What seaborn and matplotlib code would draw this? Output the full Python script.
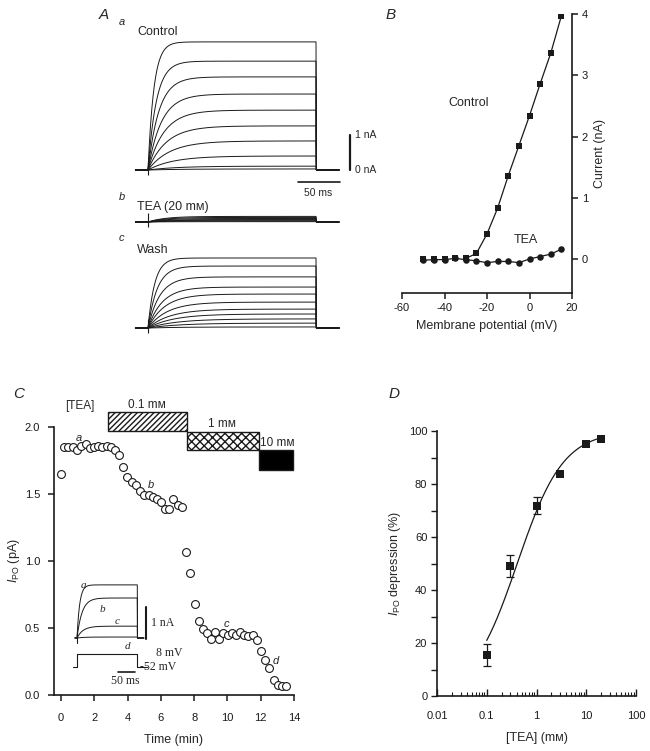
import numpy as np
import pandas as pd
import seaborn as sns
import matplotlib
matplotlib.use("Agg")
import matplotlib.pyplot as plt

# ---- data ----
# A: steady-state amplitude (nA) and rise time constant (ms) of each record
ctrl_amp = [3.66, 3.11, 2.66, 2.17, 1.71, 1.26, 0.83, 0.40, 0.11, 0.03]
ctrl_tau = [7, 10, 13, 16, 19, 22, 26, 30, 35, 40]
tea_amp = [0.16, 0.13, 0.10, 0.07, 0.05, 0.03, 0.01]
tea_tau = [20, 20, 20, 20, 20, 20, 20]
wash_amp = [2.0, 1.77, 1.46, 1.17, 0.97, 0.74, 0.54, 0.40, 0.26, 0.14, 0.03]
wash_tau = [8, 11, 14, 17, 20, 23, 26, 30, 34, 38, 40]
step_ms = 200

# B: I-V relation
vm = [-50, -45, -40, -35, -30, -25, -20, -15, -10, -5, 0, 5, 10, 15]
ctrl_iv = [0.0, 0.0, 0.0, 0.01, 0.01, 0.09, 0.41, 0.83, 1.36, 1.85, 2.34, 2.86, 3.36, 3.97]
tea_iv = [-0.02, -0.01, -0.01, 0.01, -0.01, -0.03, -0.06, -0.04, -0.04, -0.06, 0.0, 0.04, 0.08, 0.16]

# C: time course of I_PO
time_min = [0, 0.18, 0.44, 0.7, 0.94, 1.18, 1.5, 1.74, 1.98, 2.22, 2.46, 2.74, 2.98, 3.24,
            3.49, 3.75, 3.99, 4.25, 4.51, 4.75, 5.01, 5.27, 5.53, 5.75, 6.01, 6.25, 6.51,
            6.75, 7.01, 7.27, 7.51, 7.76, 8.06, 8.3, 8.52, 8.8, 9.02, 9.26, 9.52, 9.76,
            10.02, 10.26, 10.52, 10.76, 11.02, 11.26, 11.52, 11.76, 12.02, 12.28, 12.52,
            12.77, 13.03, 13.29, 13.53]
ipo = [1.65, 1.85, 1.85, 1.85, 1.83, 1.86, 1.87, 1.84, 1.85, 1.86, 1.85, 1.86, 1.85, 1.83,
       1.79, 1.70, 1.63, 1.59, 1.57, 1.52, 1.49, 1.49, 1.48, 1.46, 1.44, 1.39, 1.39,
       1.46, 1.42, 1.40, 1.07, 0.91, 0.68, 0.55, 0.49, 0.46, 0.42, 0.47, 0.42, 0.46,
       0.45, 0.46, 0.45, 0.47, 0.45, 0.44, 0.45, 0.41, 0.33, 0.26, 0.20,
       0.11, 0.075, 0.07, 0.07]
tea_labels = ["0.1 mᴍ", "1 mᴍ", "10 mᴍ"]
tea_start = [2.82, 7.57, 11.9]
tea_end = [7.57, 11.9, 13.94]
tea_low = [1.97, 1.83, 1.68]
tea_high = [2.11, 1.96, 1.83]
point_tags = ["a", "b", "c", "d"]
tag_t = [1.1, 5.4, 9.96, 12.9]
tag_v = [1.92, 1.57, 0.53, 0.25]
# inset records a-d
inset_amp = [1.66, 1.25, 0.37, 0.03]
inset_tau = [8, 15, 18, 20]
inset_step = 180
proto_t = [-12, 0, 0, 180, 180, 210]
proto_mv = [-52, -52, 8, 8, -52, -52]

# D: concentration-response
tea_conc = [0.1, 0.3, 1, 3, 10, 20]
depression = [15.6, 49.0, 71.8, 83.9, 95.0, 97.0]
dep_sem = [4.1, 4.2, 3.2, 0, 0, 0]
ec50, hill_n = 0.41, 0.94

sns.set_theme(style="ticks")
plt.rcParams['font.family'] = ['Liberation Sans', 'DejaVu Sans']
plt.rcParams['mathtext.fontset'] = 'custom'
plt.rcParams['mathtext.rm'] = 'Liberation Sans'
plt.rcParams['mathtext.it'] = 'Liberation Sans:italic'
plt.rcParams['axes.unicode_minus'] = False
plt.rcParams['hatch.linewidth'] = 1.0

W, H = 650, 751
fig = plt.figure(figsize=(W / 100, H / 100), dpi=100)


def box(x0, y0, x1, y1):
    return [x0 / W, 1 - y1 / H, (x1 - x0) / W, (y1 - y0) / H]


def ftext(x, y, s, **kw):
    kw.setdefault('ha', 'left')
    kw.setdefault('va', 'center')
    fig.text(x / W, 1 - y / H, s, **kw)


def records(amps, taus, dur, t0=-15, t1=228):
    t = np.arange(t0, t1, 0.5)
    rows = []
    for i, (a, tau) in enumerate(zip(amps, taus)):
        on = (t >= 0) & (t <= dur)
        y = np.where(on, a * (1 - np.exp(-np.clip(t, 0, None) / tau)), 0.0)
        rows.append(pd.DataFrame({'t': t, 'I': y, 'rec': i}))
    return pd.concat(rows)


def blank(ax):
    ax.set_facecolor('none')
    ax.axis('off')


# ---- panel A ----
px_ms, px_na = 0.84, 35.0
A_boxes = [(20, 200, 170), (200, 235, 222), (240, 340, 328)]
A_sets = [(ctrl_amp, ctrl_tau), (tea_amp, tea_tau), (wash_amp, wash_tau)]
for (ytop, ybot, ybase), (amps, taus) in zip(A_boxes, A_sets):
    ax = fig.add_axes(box(130, ytop, 400, ybot))
    blank(ax)
    df = records(amps, taus, step_ms)
    sns.lineplot(data=df, x='t', y='I', units='rec', estimator=None, color='k',
                 lw=0.7, ax=ax, legend=False)
    ax.vlines(0, -0.15, 0.25, color='k', lw=0.8)
    ax.set_xlim((130 - 148) / px_ms, (400 - 148) / px_ms)
    ax.set_ylim((ybase - ybot) / px_na, (ybase - ytop) / px_na)
    if ytop == 20:
        ax.plot([240.5, 240.5], [0, 1], color='k', lw=1.6)
        ax.text(246, 1.0, "1 nA", fontsize=7.5, va='center')
        ax.text(246, 0.0, "0 nA", fontsize=7.5, va='center')
        ax.plot([178, 228], [-0.34, -0.34], color='k', lw=1.2)
        ax.text(203, -0.66, "50 ms", fontsize=7.5, ha='center', va='center')

ftext(99, 15, "A", fontsize=11, style='italic')
ftext(119, 22, "a", fontsize=8, style='italic')
ftext(137, 32, "Control", fontsize=9)
ftext(119, 197, "b", fontsize=8, style='italic')
ftext(137, 207, "TEA (20 mᴍ)", fontsize=9)
ftext(119, 238, "c", fontsize=8, style='italic')
ftext(137, 250, "Wash", fontsize=9)

# ---- panel B ----
axB = fig.add_axes(box(402, 14, 572, 293))
axB.set_facecolor('none')
ivdf = pd.DataFrame({'vm': vm, 'ctrl': ctrl_iv, 'tea': tea_iv})
sns.lineplot(data=ivdf[ivdf.vm >= -30], x='vm', y='ctrl', color='k', lw=0.9, ax=axB)
sns.lineplot(data=ivdf, x='vm', y='tea', color='k', lw=0.9, ax=axB)
sns.scatterplot(data=ivdf, x='vm', y='ctrl', marker='s', s=24, color='k',
                edgecolor='k', linewidth=0, ax=axB, zorder=3)
sns.scatterplot(data=ivdf, x='vm', y='tea', marker='o', s=22, color='k',
                edgecolor='k', linewidth=0, ax=axB, zorder=4)
axB.set_xlim(-60, 20)
axB.set_ylim(-0.555, 4.0)
axB.set_xticks([-60, -40, -20, 0, 20])
axB.set_yticks([0, 1, 2, 3, 4])
axB.yaxis.tick_right()
axB.yaxis.set_label_position('right')
for s in ['left', 'top']:
    axB.spines[s].set_visible(False)
for s in ['right', 'bottom']:
    axB.spines[s].set_linewidth(1.2)
    axB.spines[s].set_color('k')
axB.tick_params(direction='out', length=4, width=1.1, labelsize=8, colors='k', pad=3)
axB.set_xlabel("Membrane potential (mV)", fontsize=9, labelpad=5)
axB.set_ylabel("Current (nA)", fontsize=9, labelpad=4)
axB.text(-28.7, 2.55, "Control", fontsize=9, ha='center', va='center')
axB.text(-1.9, 0.31, "TEA", fontsize=9, ha='center', va='center')
ftext(386, 15, "B", fontsize=11, style='italic')

# ---- panel C ----
axC = fig.add_axes(box(54, 427, 294, 695))
axC.set_facecolor('none')
cdf = pd.DataFrame({'t': time_min, 'ipo': ipo})
sns.scatterplot(data=cdf, x='t', y='ipo', marker='o', s=32, facecolor='white',
                edgecolor='k', linewidth=0.8, ax=axC, zorder=3, clip_on=False)
hatches = ['//////', 'xxxx', None]
fills = ['white', 'white', 'black']
for st, en, lo, hi, hz, fc in zip(tea_start, tea_end, tea_low, tea_high, hatches, fills):
    axC.bar(st, hi - lo, width=en - st, bottom=lo, align='edge', facecolor=fc,
            edgecolor='k', hatch=hz, lw=1.0, clip_on=False)
ftext(65, 406, "[TEA]", fontsize=8.5)
ftext(147, 405, tea_labels[0], fontsize=8.5, ha='center')
ftext(222, 424, tea_labels[1], fontsize=8.5, ha='center')
ftext(260, 443, tea_labels[2], fontsize=8.5)
for tg, tx, ty in zip(point_tags, tag_t, tag_v):
    axC.text(tx, ty, tg, fontsize=8, style='italic', ha='center', va='center')
axC.set_xlim(-0.42, 14)
axC.set_ylim(0, 2)
axC.set_xticks(range(0, 15, 2))
axC.set_yticks([0, 0.5, 1.0, 1.5, 2.0])
axC.set_yticklabels(["0.0", "0.5", "1.0", "1.5", "2.0"])
for s in ['right', 'top']:
    axC.spines[s].set_visible(False)
for s in ['left', 'bottom']:
    axC.spines[s].set_linewidth(1.2)
    axC.spines[s].set_color('k')
axC.tick_params(direction='out', length=4, width=1.1, labelsize=8, colors='k', pad=6)
axC.tick_params(axis='x', pad=9)
axC.set_xlabel("Time (min)", fontsize=9, labelpad=8)
axC.set_ylabel(r"$I_{\mathrm{PO}}$ (pA)", fontsize=9, labelpad=2)
ftext(13, 394, "C", fontsize=11, style='italic')

# inset records
in_ms, in_na = 0.335, 32.0
axI = fig.add_axes(box(65, 575, 200, 645))
blank(axI)
idf = records(inset_amp, inset_tau, inset_step, t0=-6, t1=200)
sns.lineplot(data=idf, x='t', y='I', units='rec', estimator=None, color='k',
             lw=0.7, ax=axI, legend=False)
axI.plot([0, 0], [-0.15, 0.15], color='k', lw=0.8)
axI.plot([206, 206], [-0.03, 0.97], color='k', lw=1.5)
axI.set_xlim((65 - 77) / in_ms, (200 - 77) / in_ms)
axI.set_ylim((638 - 645) / in_na, (638 - 575) / in_na)
for tg, tx, ty in zip(point_tags, [18, 75, 119, 152], [1.63, 0.88, 0.5, -0.28]):
    axI.text(tx, ty, tg, fontsize=8, style='italic', ha='center', va='center',
             family='Liberation Serif')
ftext(151, 623, "1 nA", fontsize=8.5, family='Liberation Serif')

axV = fig.add_axes(box(65, 645, 200, 690))
blank(axV)
axV.plot(proto_t, proto_mv, color='k', lw=0.8)
axV.plot([123, 173], [-75, -75], color='k', lw=1.2)
axV.set_xlim((65 - 77) / in_ms, (200 - 77) / in_ms)
axV.set_ylim(-158, 49.5)
ftext(156, 653, "8 mV", fontsize=8.5, family='Liberation Serif')
ftext(140, 667, "-52 mV", fontsize=8.5, family='Liberation Serif')
ftext(125, 681, "50 ms", fontsize=8.5, family='Liberation Serif', ha='center')

# ---- panel D ----
axD = fig.add_axes(box(437, 431, 636, 696))
axD.set_facecolor('none')
ddf = pd.DataFrame({'c': tea_conc, 'd': depression, 'e': dep_sem})
cfit = np.logspace(-1, np.log10(20), 200)
fitdf = pd.DataFrame({'c': cfit, 'd': 100 * cfit ** hill_n / (cfit ** hill_n + ec50 ** hill_n)})
sns.lineplot(data=fitdf, x='c', y='d', color='k', lw=0.9, ax=axD)
axD.errorbar(ddf.c[ddf.e > 0], ddf.d[ddf.e > 0], yerr=ddf.e[ddf.e > 0], fmt='none',
             ecolor='k', elinewidth=0.9, capsize=3, capthick=0.9)
sns.scatterplot(data=ddf, x='c', y='d', marker='s', s=30, color='k', edgecolor='k',
                linewidth=0, ax=axD, zorder=4)
axD.set_xscale('log')
axD.set_xlim(0.01, 100)
axD.set_ylim(0, 100)
axD.set_xticks([0.01, 0.1, 1, 10, 100])
axD.set_xticklabels(["0.01", "0.1", "1", "10", "100"])
axD.set_yticks(range(0, 101, 20))
axD.set_yticks(range(10, 100, 20), minor=True)
for s in ['right', 'top']:
    axD.spines[s].set_visible(False)
for s in ['left', 'bottom']:
    axD.spines[s].set_linewidth(1.2)
    axD.spines[s].set_color('k')
axD.tick_params(axis='y', which='both', direction='out', length=4, width=1.0,
                labelsize=8, colors='k', pad=3)
axD.tick_params(axis='x', which='major', direction='in', length=5, width=1.0,
                labelsize=8, colors='k', pad=11)
axD.tick_params(axis='x', which='minor', direction='in', length=3, width=0.8, colors='k')
axD.set_xlabel("[TEA] (mᴍ)", fontsize=9, labelpad=8)
axD.set_ylabel(r"$I_{\mathrm{PO}}$ depression (%)", fontsize=9, labelpad=4)
ftext(389, 394, "D", fontsize=11, style='italic')

fig.savefig("out.png", dpi=100)
